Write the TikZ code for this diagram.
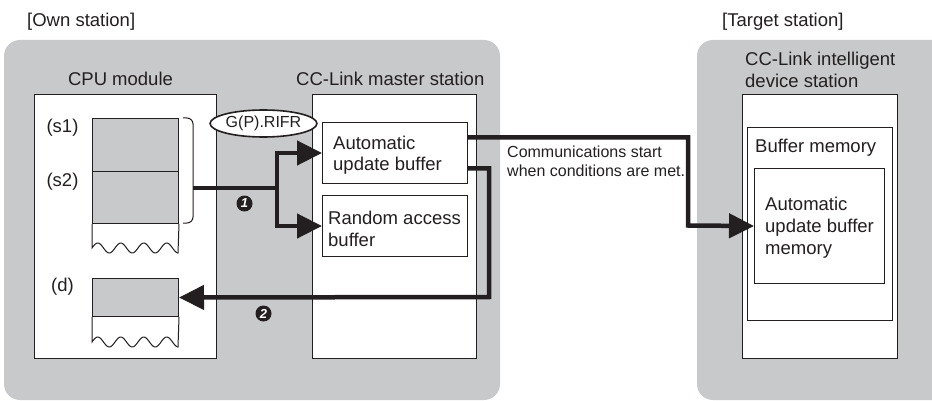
\documentclass[tikz,border=0pt]{standalone}
\usepackage{fontspec}
\setmainfont{Liberation Sans}
\usetikzlibrary{arrows.meta,shapes.geometric}
\definecolor{panel}{RGB}{200,201,203}
\definecolor{ink}{RGB}{35,31,32}
\tikzset{
  box/.style={draw=ink,fill=white,line width=1pt,anchor=north west,inner sep=0pt},
  cell/.style={box,fill=panel},
  lbl/.style={font=\fontsize{18.5}{21.5}\selectfont,text=ink,inner sep=0pt,align=left},
  small/.style={lbl,font=\fontsize{16}{19}\selectfont},
  flow/.style={draw=ink,line width=4.5pt,-{Triangle[length=25pt,width=24pt]}},
  num/.style={circle,fill=ink,text=white,inner sep=0pt,minimum size=16pt,font=\fontsize{13}{13}\selectfont\bfseries\itshape},
}
\begin{document}
\begin{tikzpicture}[x=1pt,y=-1pt]
    \useasboundingbox (0,0) rectangle (932,401);
    \clip (0,0) rectangle (932,401);
    % Hintergrund der Stationen
    \fill[panel,rounded corners=16pt] (4,40) rectangle (500,400);
    \fill[panel,rounded corners=16pt] (697,40) rectangle (960,400);
    \node[lbl,anchor=base west] (ownlbl) at (27,27) {[Own station]};
    \node[lbl,anchor=base west] (tgtlbl) at (722,27) {[Target station]};
    % CPU-Modul
    \node[lbl,anchor=base] (cpulbl) at (120.5,86) {CPU module};
    \node[box,minimum width=182,minimum height=264] (cpu) at (34,94) {};
    \node[cell,minimum width=86,minimum height=53] (s1) at (92,118) {};
    \node[cell,minimum width=86,minimum height=52] (s2) at (92,171) {};
    \node[cell,minimum width=86,minimum height=38] (dbox) at (92,278) {};
    \draw[ink,line width=1pt] (s2.south west) -- (92,248) -- plot[domain=92:178,samples=90] (\x,{248-5*sin(15.652*(\x-92))}) -- (s2.south east);
    \draw[ink,line width=1pt] (dbox.south west) -- (92,342) -- plot[domain=92:178,samples=90] (\x,{342-5*sin(15.652*(\x-92))}) -- (dbox.south east);
    \node[lbl,anchor=base] (s1lbl) at (62.5,133) {(s1)};
    \node[lbl,anchor=base] (s2lbl) at (62.5,186) {(s2)};
    \node[lbl,anchor=base] (dlbl) at (62.5,291) {(d)};
    \draw[ink,line width=1pt,rounded corners=6pt] (183,118) -- (193,118) -- (193,223) -- (183,223);
    \coordinate (split) at (193,188);
    \coordinate (fork) at (277,188);
    % Masterstation
    \node[lbl,anchor=base west] (mstlbl) at (296,86) {CC-Link master station};
    \node[box,minimum width=164,minimum height=264] (master) at (312,94) {};
    \node[box,minimum width=145,minimum height=61] (auto) at (322,122) {};
    \node[box,minimum width=145,minimum height=61] (random) at (322,195) {};
    \node[lbl,anchor=base west] (autolbl) at (333,171) {Automatic\\update buffer};
    \node[lbl,anchor=base west] (randlbl) at (328,246) {Random access\\buffer};
    \node[ellipse,draw=ink,fill=white,line width=1.6pt,minimum width=92,minimum height=27,inner sep=0pt,text=ink,font=\fontsize{16}{16}\selectfont] (rifr) at (263.5,123.5) {G(P).RIFR};
    % intelligente Geraetestation
    \node[lbl,anchor=base west] (devlbl) at (745,87.5) {CC-Link intelligent\\device station};
    \node[box,minimum width=155,minimum height=264] (dev) at (742,94) {};
    \node[box,minimum width=145,minimum height=193] (bufmem) at (747,127) {};
    \node[box,minimum width=130,minimum height=115] (autmem) at (754,168) {};
    \node[lbl,anchor=base west] (buflbl) at (755,153) {Buffer memory};
    \node[lbl,anchor=base west,font=\fontsize{18.5}{22}\selectfont] (memlbl) at (765,254) {Automatic\\update buffer\\memory};
    \node[small,anchor=base west] (commlbl) at (507,176.5) {Communications start\\when conditions are met.};
    % Datenfluss
    \coordinate (ret) at (489,297);
    \coordinate (out) at (688,225.5);
    \draw[flow] (split) -- (fork) |- (auto.west);
    \draw[flow] (fork) |- (random.west);
    \draw[flow] ([yshift=-15.5pt]auto.east) -| (ret) -- (dbox.east);
    \draw[flow] ([yshift=15.5pt]auto.east) -| (out) -- (autmem.west);
    \node[num] (n1) at (244.5,203.5) {1};
    \node[num] (n2) at (263.5,313.5) {2};
\end{tikzpicture}
\end{document}
